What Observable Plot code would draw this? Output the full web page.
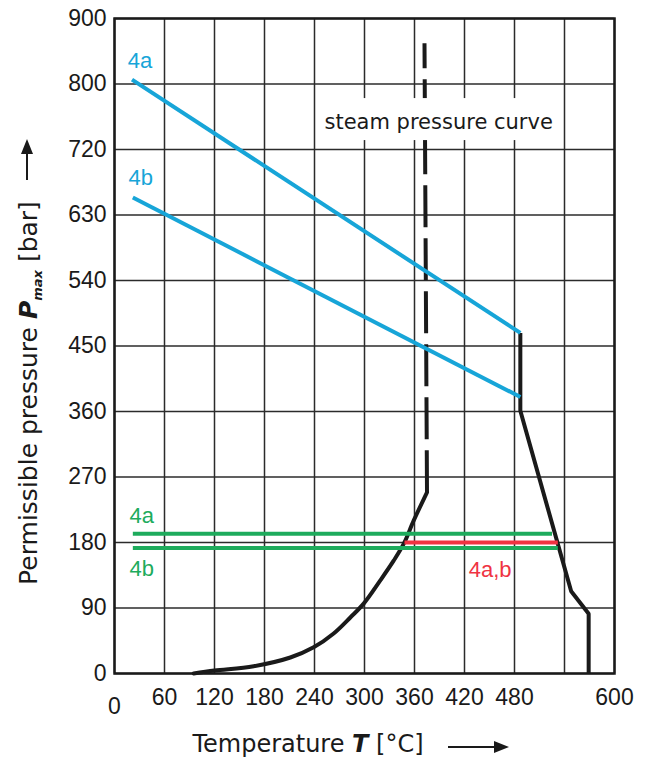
<!DOCTYPE html>
<html><head><meta charset="utf-8">
<script src="https://cdn.jsdelivr.net/npm/d3@7"></script>
<script src="https://cdn.jsdelivr.net/npm/@observablehq/plot@0.6"></script>
<style>
body{margin:0;background:#fff;}
#chart{width:652px;height:760px;}
</style></head><body><div id="chart"></div>
<script>
// ---- axes / ticks ----
const xGridTicks = [0, 60, 120, 180, 240, 300, 360, 420, 480, 540, 600];
const xTickValues = [60, 120, 180, 240, 300, 360, 420, 480, 600];
const xZeroTick = [0];
const yTickValues = [0, 90, 180, 270, 360, 450, 540, 630, 720, 810, 900];
const yTickLabels = ["0", "90", "180", "270", "360", "450", "540", "630", "720", "800", "900"];

// ---- series (temperature T in °C, pressure P in grid units) ----
const blue4aT = [21, 487];
const blue4aP = [816, 468];
const blue4bT = [22, 487];
const blue4bP = [654, 380];
const green4aT = [22, 525];
const green4aP = [192, 192];
const green4bT = [22, 532];
const green4bP = [172.5, 172.5];
const red4abT = [348, 532];
const red4abP = [180, 180];
const limitT = [487, 487, 548, 569, 569];
const limitP = [468, 361, 113, 82, 0];
const steamT = [95, 120, 167, 211, 239, 263, 283, 299, 319, 335, 347, 359, 375];
const steamP = [0, 4, 10, 22, 36, 55, 77, 96, 128, 155, 178, 210, 249];
const steamDashT = [375, 372];
const steamDashP = [249, 866];
const steamLabelText = ["steam pressure curve"];
const steamLabelT = [389];
const steamLabelP = [757];

const BLUE = "#17a5d8", GREEN = "#1dab5c", RED = "#ef3342", INK = "#1a1a1a", GRID = "#2b2b2b";
const TITLE_FONT = "'DejaVu Sans', sans-serif";
const yLabelMap = new Map(yTickValues.map((v, i) => [v, yTickLabels[i]]));
const first = (a) => a.slice(0, 1);
const mid = (a) => [(a[0] + a[a.length - 1]) / 2];

const plot = Plot.plot({
  width: 652, height: 760,
  marginTop: 18, marginRight: 38, marginBottom: 87, marginLeft: 114,
  style: {fontFamily: "'Liberation Sans', Arial, sans-serif", background: "white", color: INK, overflow: "visible"},
  x: {domain: [0, 600]},
  y: {domain: [0, 900]},
  marks: [
    Plot.gridX(xGridTicks, {stroke: GRID, strokeOpacity: 1, strokeWidth: 1.5}),
    Plot.gridY(yTickValues, {stroke: GRID, strokeOpacity: 1, strokeWidth: 1.5}),
    Plot.frame({stroke: INK, strokeWidth: 2.5}),
    Plot.line(steamDashT, {x: steamDashT, y: steamDashP, stroke: INK, strokeWidth: 4, strokeDasharray: "42,11", strokeLinecap: "butt"}),
    Plot.line(steamT, {x: steamT, y: steamP, stroke: INK, strokeWidth: 4, curve: "catmull-rom"}),
    Plot.line(limitT, {x: limitT, y: limitP, stroke: INK, strokeWidth: 4, strokeLinejoin: "miter", strokeLinecap: "butt"}),
    Plot.line(blue4aT, {x: blue4aT, y: blue4aP, stroke: BLUE, strokeWidth: 4, strokeLinecap: "butt"}),
    Plot.line(blue4bT, {x: blue4bT, y: blue4bP, stroke: BLUE, strokeWidth: 4, strokeLinecap: "butt"}),
    Plot.line(green4aT, {x: green4aT, y: green4aP, stroke: GREEN, strokeWidth: 4, strokeLinecap: "butt"}),
    Plot.line(green4bT, {x: green4bT, y: green4bP, stroke: GREEN, strokeWidth: 4, strokeLinecap: "butt"}),
    Plot.line(red4abT, {x: red4abT, y: red4abP, stroke: RED, strokeWidth: 4, strokeLinecap: "butt"}),
    Plot.text(["4a"], {x: first(blue4aT), y: first(blue4aP), text: d => d, fill: BLUE, fontSize: 22, dx: 8, dy: -19}),
    Plot.text(["4b"], {x: first(blue4bT), y: first(blue4bP), text: d => d, fill: BLUE, fontSize: 22, dx: 8, dy: -20}),
    Plot.text(["4a"], {x: first(green4aT), y: first(green4aP), text: d => d, fill: GREEN, fontSize: 22, dx: 9, dy: -18}),
    Plot.text(["4b"], {x: first(green4bT), y: first(green4bP), text: d => d, fill: GREEN, fontSize: 22, dx: 9, dy: 21}),
    Plot.text(["4a,b"], {x: mid(red4abT), y: first(red4abP), text: d => d, fill: RED, fontSize: 22, dx: 9, dy: 27}),
    Plot.axisX({ticks: xTickValues, tickSize: 0, tickPadding: 15, fontSize: 23, label: null}),
    Plot.axisX({ticks: xZeroTick, tickSize: 0, tickPadding: 24, fontSize: 23, label: null}),
    Plot.axisY({ticks: yTickValues, tickSize: 0, tickPadding: 8, fontSize: 23, label: null, tickFormat: d => yLabelMap.get(d)}),
    Plot.text(steamLabelText, {x: steamLabelT, y: steamLabelP, text: d => d, fill: INK, fontSize: 21, fontFamily: TITLE_FONT})
  ]
});
document.getElementById("chart").appendChild(plot);

// ---- decorations: label box, axis titles with rich text, arrows ----
const NS = "http://www.w3.org/2000/svg";
const svgNode = plot.tagName.toLowerCase() === "svg" ? plot : plot.querySelector("svg");
const svg = d3.select(svgNode);
const sx = plot.scale("x"), sy = plot.scale("y");
Array.from(svgNode.querySelectorAll("text")).forEach(t => {
  if (t.textContent.trim() === steamLabelText[0]) {
    let g = t;
    while (g.parentNode && g.parentNode !== svgNode) g = g.parentNode;
    let w = 233;
    try { const L = t.getComputedTextLength(); if (L > 50) w = L; } catch (e) {}
    const cx = sx.apply(steamLabelT[0]), cy = sy.apply(steamLabelP[0]);
    const rect = document.createElementNS(NS, "rect");
    rect.setAttribute("x", cx - w / 2 - 7);
    rect.setAttribute("y", cy - 24);
    rect.setAttribute("width", w + 14);
    rect.setAttribute("height", 42);
    rect.setAttribute("fill", "#ffffff");
    svgNode.insertBefore(rect, g);
  }
});

const xt = svg.append("text").attr("x", 308).attr("y", 752).attr("text-anchor", "middle")
  .attr("font-family", TITLE_FONT).attr("font-size", 24).attr("fill", INK);
xt.append("tspan").text("Temperature ");
xt.append("tspan").attr("font-weight", "bold").attr("font-style", "italic").text("T");
xt.append("tspan").text(" [°C]");

const yt = svg.append("text").attr("transform", "translate(37,393) rotate(-90)").attr("text-anchor", "middle")
  .attr("font-family", TITLE_FONT).attr("font-size", 25).attr("fill", INK);
yt.append("tspan").text("Permissible pressure ");
yt.append("tspan").attr("font-weight", "bold").attr("font-style", "italic").text("P");
yt.append("tspan").attr("font-weight", "bold").attr("font-style", "italic").attr("font-size", 13).attr("dy", 5).text("max");
yt.append("tspan").attr("dy", -5).text(" [bar]");

// arrows
svg.append("line").attr("x1", 448).attr("y1", 747).attr("x2", 496).attr("y2", 747).attr("stroke", INK).attr("stroke-width", 2);
svg.append("path").attr("d", "M509,747 L494,741 L494,753 Z").attr("fill", INK);
svg.append("line").attr("x1", 27).attr("y1", 180).attr("x2", 27).attr("y2", 150).attr("stroke", INK).attr("stroke-width", 2);
svg.append("path").attr("d", "M27,139 L21,154 L33,154 Z").attr("fill", INK);
</script>
</body></html>
